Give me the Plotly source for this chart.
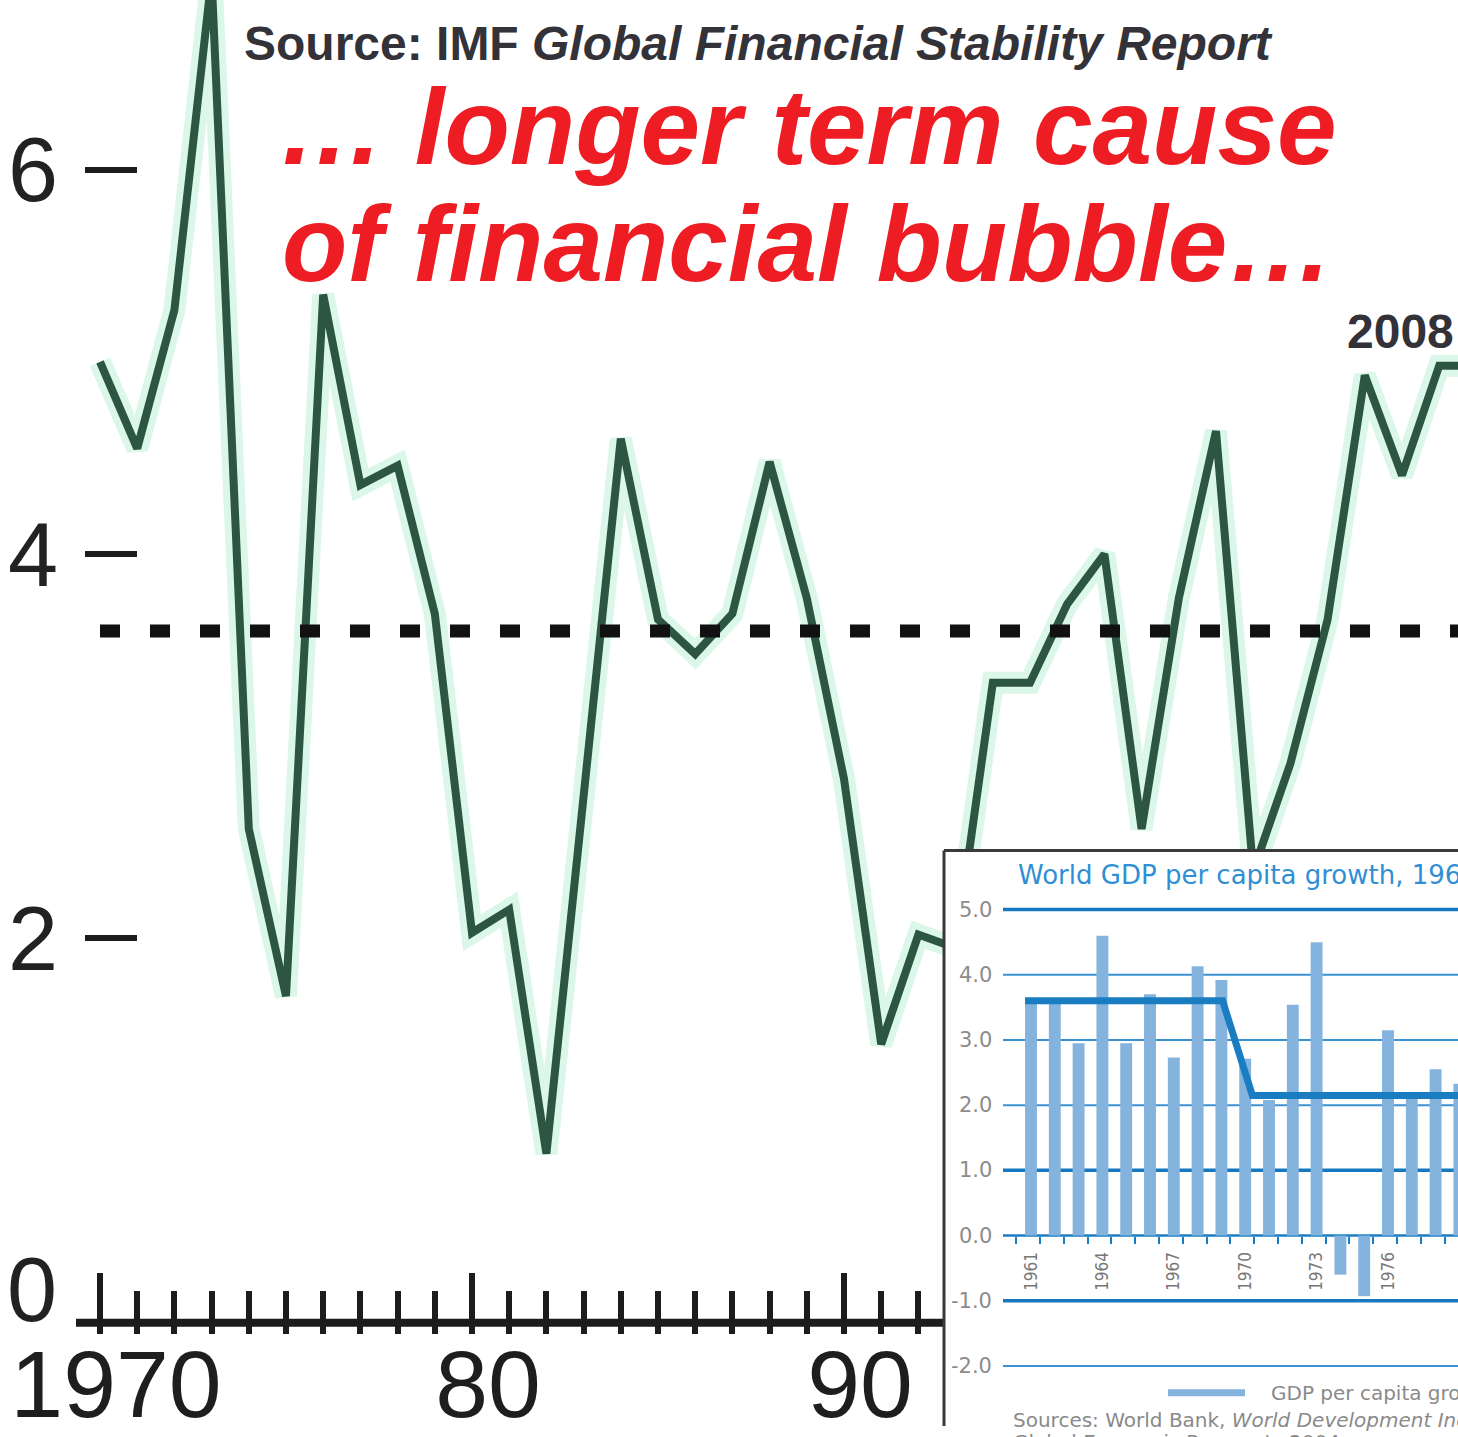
"""World GDP growth chart with IMF source note and a World Bank inset."""

import plotly.graph_objects as go

# ---------------- data ----------------
YEARS = list(range(1970, 2008))
GROWTH = [5.00, 4.55, 5.27, 7.00, 2.57, 1.70, 5.35, 4.36, 4.46, 3.69,
          2.03, 2.15, 0.88, 2.78, 4.60, 3.66, 3.48, 3.69, 4.48, 3.77,
          2.83, 1.45, 2.02, 1.95, 3.33, 3.33, 3.74, 4.00, 2.57, 3.77,
          4.64, 2.35, 2.91, 3.66, 4.93, 4.41, 4.98, 4.98]
AVG_GROWTH = 3.6

MAIN_TICK_YEARS = [1970, 1980, 1990, 2000]
MAIN_TICK_TEXT = ["1970", "80", "90", "2000"]
MAIN_Y_TICKS = [2, 4, 6]

INSET_YEARS = list(range(1961, 1980))
INSET_GDP = [3.60, 3.55, 2.95, 4.60, 2.95, 3.70, 2.73, 4.13, 3.92, 2.71,
             2.08, 3.54, 4.50, -0.60, -0.93, 3.15, 2.15, 2.55, 2.33]
TREND_YEARS = [1960.75, 1969.05, 1970.3, 1980.0]
TREND_VALUES = [3.6, 3.6, 2.15, 2.15]
INSET_LABEL_YEARS = [1961, 1964, 1967, 1970, 1973, 1976, 1979]
INSET_Y_VALUES = [5, 4, 3, 2, 1, 0, -1, -2]
INSET_Y_TEXT = ["5.0", "4.0", "3.0", "2.0", "1.0", "0.0", "-1.0", "-2.0"]
INSET_GRID = [5, 4, 3, 2, 1, -1, -2]
INSET_THICK = [5, 1, -1]

W, H = 1458, 1437
# the photographed page comes out a little shorter than asked,
# so vertical positions taken from the target are stretched back
Y_STRETCH = 1 / 0.994


# ---------------- pixel helpers ----------------
def px(x):
    return x / W


def py(y):
    return 1 - y * Y_STRETCH / H


def main_year(x):
    return 1970 + (x - 100) / 37.2


def main_val(y):
    return (1325 - y) / 192.5


def inset_year(x):
    return 1961 + (x - 1031) / 23.8


def inset_val(y):
    return (1237.6 - y) / 65.3


X_MAIN = [main_year(0), main_year(W)]
Y_MAIN = [main_val(H / Y_STRETCH), main_val(0)]
X_INSET = [inset_year(944), inset_year(W)]
Y_INSET = [inset_val(H / Y_STRETCH), inset_val(852)]
AXIS_POS = py(1322)
INK = "#1c1c1c"

fig = go.Figure()

# ====================== MAIN CHART ======================
fig.add_trace(go.Scatter(
    x=YEARS, y=GROWTH, mode="lines",
    line=dict(color="rgba(190,240,215,0.55)", width=22),
    hoverinfo="skip", showlegend=False
))
fig.add_trace(go.Scatter(
    x=YEARS, y=GROWTH, mode="lines",
    line=dict(color="#2c5642", width=8),
    showlegend=False
))
fig.add_trace(go.Scatter(
    x=[YEARS[0], YEARS[-1]], y=[AVG_GROWTH, AVG_GROWTH], mode="lines",
    line=dict(color="#111111", width=13, dash="20px,30px"),
    xaxis="x3", showlegend=False
))

# ====================== INSET ======================
fig.add_trace(go.Bar(
    x=INSET_YEARS, y=INSET_GDP, width=0.5,
    marker=dict(color="#84b3dd", line_width=0),
    xaxis="x2", yaxis="y2", showlegend=False
))
fig.add_trace(go.Scatter(
    x=TREND_YEARS, y=TREND_VALUES, mode="lines",
    line=dict(color="#1a7dc1", width=7),
    xaxis="x2", yaxis="y2", showlegend=False
))

shapes = [
    # main x axis line
    dict(type="line", xref="paper", yref="y", x0=px(76), x1=1, y0=0, y1=0,
         line=dict(color=INK, width=8), layer="below"),
    # inset white panel
    dict(type="rect", xref="x2", yref="y2", x0=X_INSET[0], x1=X_INSET[1],
         y0=Y_INSET[0], y1=Y_INSET[1], fillcolor="white", line_width=0, layer="below"),
]
for v in INSET_GRID:
    thick = v in INSET_THICK
    shapes.append(dict(
        type="line", xref="x2", yref="y2", x0=inset_year(1003), x1=X_INSET[1] + 1,
        y0=v, y1=v, layer="below",
        line=dict(color="#1578c0" if thick else "#3a92d3", width=3.5 if thick else 2)
    ))
shapes.append(dict(type="line", xref="x2", yref="y2", x0=inset_year(1003), x1=X_INSET[1] + 1,
                   y0=0, y1=0, layer="below", line=dict(color="#1a7cc2", width=2.5)))
# inset frame + legend swatch
shapes += [
    dict(type="line", xref="paper", yref="paper", x0=px(944), x1=px(944), y0=0, y1=py(852),
         line=dict(color="#3a3a3a", width=3), layer="above"),
    dict(type="line", xref="paper", yref="paper", x0=px(944), x1=1, y0=py(852), y1=py(852),
         line=dict(color="#3a3a3a", width=3), layer="above"),
    dict(type="line", xref="paper", yref="paper", x0=px(1168), x1=px(1245), y0=py(1395), y1=py(1395),
         line=dict(color="#84b3dd", width=7), layer="above"),
]

annotations = [
    dict(text="Source: IMF <i>Global Financial Stability Report</i>", x=px(242), y=py(44),
         xanchor="left", yanchor="middle",
         font=dict(family="Liberation Sans, Arial", size=48, color="#333238", weight="bold")),
    dict(text="<b><i>\u2026 longer term cause</i></b>", x=px(276), y=py(127),
         xanchor="left", yanchor="middle",
         font=dict(family="Liberation Sans, Arial", size=107, color="#ee1d24")),
    dict(text="<b><i>of financial bubble\u2026</i></b>", x=px(280), y=py(244),
         xanchor="left", yanchor="middle",
         font=dict(family="Liberation Sans, Arial", size=107, color="#ee1d24")),
    dict(text="<b>2008</b>", x=px(1400), y=py(332), xanchor="center", yanchor="middle",
         font=dict(family="Liberation Sans, Arial", size=48, color="#333238")),
    dict(text="0", x=px(32), y=0, yref="y", xanchor="center", yanchor="middle", yshift=33,
         font=dict(family="Liberation Sans, Arial", size=90, color="#222222")),
    # inset texts
    dict(text="World GDP per capita growth, 1961\u20132003", x=px(1016), y=py(876),
         xanchor="left", yanchor="middle",
         font=dict(family="DejaVu Sans", size=26, color="#2f8fd5")),
    dict(text="GDP per capita growth", x=px(1269), y=py(1395), xanchor="left", yanchor="middle",
         font=dict(family="DejaVu Sans", size=20, color="#8a8a8a")),
    dict(text="Sources: World Bank, <i>World Development Indicators</i>", x=px(1011), y=py(1422),
         xanchor="left", yanchor="middle",
         font=dict(family="DejaVu Sans", size=20, color="#8a8a8a")),
    dict(text="Global Economic Prospects 2004.", x=px(1011), y=py(1444),
         xanchor="left", yanchor="middle",
         font=dict(family="DejaVu Sans", size=20, color="#8a8a8a")),
]
for v, lab in zip(INSET_Y_VALUES, INSET_Y_TEXT):
    annotations.append(dict(
        text=lab, x=px(994), y=v, yref="y2", xanchor="right", yanchor="middle",
        font=dict(family="DejaVu Sans", size=21, color="#8c8c8c")
    ))
for a in annotations:
    a.setdefault("xref", "paper")
    a.setdefault("yref", "paper")
    a["showarrow"] = False

fig.update_layout(
    width=W, height=H,
    margin=dict(l=0, r=0, t=0, b=0),
    paper_bgcolor="white", plot_bgcolor="white",
    showlegend=False,
    shapes=shapes,
    annotations=annotations,
    xaxis=dict(
        domain=[0, 1], range=X_MAIN, anchor="free", position=AXIS_POS,
        showgrid=False, zeroline=False, showline=False,
        tickmode="array", tickvals=MAIN_TICK_YEARS, ticktext=MAIN_TICK_TEXT,
        ticks="inside", ticklen=47, tickwidth=6, tickcolor=INK,
        ticklabelshift=16, ticklabelstandoff=1,
        tickfont=dict(family="Liberation Sans, Arial", size=95, color="#1e1e1e"),
        minor=dict(tickmode="array", tickvals=YEARS, ticks="inside", ticklen=29,
                   tickwidth=6, tickcolor=INK, showgrid=False),
    ),
    xaxis3=dict(
        overlaying="x", range=X_MAIN, anchor="free", position=AXIS_POS,
        showgrid=False, zeroline=False, showline=False,
        tickmode="array", tickvals=YEARS, ticks="outside", ticklen=13,
        tickwidth=6, tickcolor=INK, showticklabels=False,
    ),
    yaxis=dict(
        domain=[0, 1], range=Y_MAIN, anchor="free", position=px(137),
        showgrid=False, zeroline=False, showline=False,
        tickmode="array", tickvals=MAIN_Y_TICKS,
        ticks="outside", ticklen=52, tickwidth=6, tickcolor=INK,
        ticklabelstandoff=9,
        tickfont=dict(family="Liberation Sans, Arial", size=90, color="#222222"),
    ),
    xaxis2=dict(
        domain=[px(944), 1], range=X_INSET, anchor="free", position=py(1237.6),
        showgrid=False, zeroline=False, showline=False,
        tickmode="array", tickvals=INSET_LABEL_YEARS,
        ticktext=[str(y) for y in INSET_LABEL_YEARS],
        ticks="", tickangle=-90, ticklabelstandoff=12,
        tickfont=dict(family="DejaVu Sans Condensed, DejaVu Sans", size=17, color="#777777"),
        minor=dict(tickmode="array", tickvals=[y + 0.38 for y in range(1960, 1979)],
                   ticks="outside", ticklen=7, tickwidth=2, tickcolor="#1a7cc2", showgrid=False),
    ),
    yaxis2=dict(
        domain=[0, py(852)], range=Y_INSET, anchor="x2",
        showgrid=False, zeroline=False, showline=False,
        showticklabels=False, ticks="",
    ),
)

# the page's default body margin would push the figure off its 1458x1437 frame
fig.write_html("out.html", config={"displayModeBar": False},
               post_script="document.body.style.margin='0';document.body.style.overflow='hidden';")
